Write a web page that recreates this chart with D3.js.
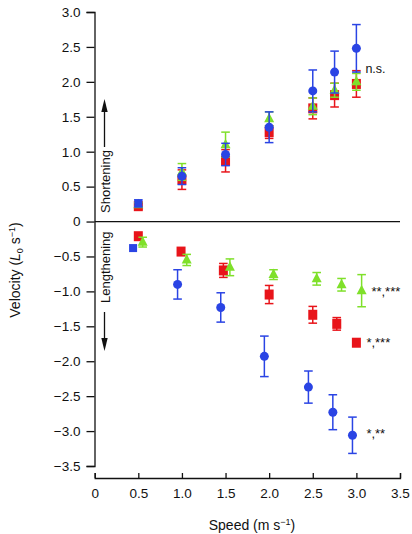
<!DOCTYPE html>
<html>
<head>
<meta charset="utf-8">
<script src="https://cdn.jsdelivr.net/npm/d3@7"></script>
<style>
body{margin:0;background:#fff;}
svg text{font-family:"Liberation Sans",Arial,Helvetica,sans-serif;fill:#111;}
</style>
</head>
<body>
<svg id="chart" width="412" height="534"></svg>
<script>
// ---- data ----
const xTicks = [0, 0.5, 1.0, 1.5, 2.0, 2.5, 3.0, 3.5];
const xTickLabels = ["0", "0.5", "1.0", "1.5", "2.0", "2.5", "3.0", "3.5"];
const yTicks = [3.0, 2.5, 2.0, 1.5, 1.0, 0.5, 0, -0.5, -1.0, -1.5, -2.0, -2.5, -3.0, -3.5];
const yTickLabels = ["3.0", "2.5", "2.0", "1.5", "1.0", "0.5", "0", "\u22120.5", "\u22121.0", "\u22121.5", "\u22122.0", "\u22122.5", "\u22123.0", "\u22123.5"];

// shortening (positive)
const shortSpeed = [0.5, 1.0, 1.5, 2.0, 2.5, 2.75, 3.0];
const shortRed   = [0.22, 0.60, 0.87, 1.28, 1.62, 1.81, 1.97];
const shortRedErr= [0.04, 0.14, 0.16, 0.09, 0.15, 0.17, 0.19];
const shortGreen = [0.24, 0.71, 1.10, 1.47, 1.65, 1.88, 2.00];
const shortGreenErr=[0.03, 0.12, 0.18, 0.10, 0.12, 0.10, 0.12];
const shortBlue  = [0.26, 0.65, 0.96, 1.35, 1.87, 2.14, 2.48];
const shortBlueErr=[0.05, 0.12, 0.16, 0.22, 0.30, 0.30, 0.34];

// lengthening (negative)
const lenRedSpeed  = [0.50, 0.99, 1.475, 2.00, 2.50, 2.775, 3.00];
const lenRed       = [-0.21, -0.43, -0.70, -1.045, -1.335, -1.465, -1.735];
const lenRedErr    = [0.0, 0.0, 0.10, 0.13, 0.12, 0.09, 0.0];
const lenGreenSpeed= [0.55, 1.055, 1.55, 2.05, 2.545, 2.83, 3.06];
const lenGreen     = [-0.295, -0.55, -0.655, -0.76, -0.82, -0.905, -0.99];
const lenGreenErr  = [0.07, 0.08, 0.12, 0.07, 0.09, 0.09, 0.23];
const lenBlueSpeed = [0.44, 0.95, 1.445, 1.945, 2.45, 2.73, 2.955];
const lenBlue      = [-0.38, -0.90, -1.23, -1.93, -2.37, -2.73, -3.06];
const lenBlueErr   = [0.0, 0.21, 0.21, 0.29, 0.23, 0.25, 0.26];

const annotations = [
  {text: "n.s.",   speed: 3.0, value: 2.195},
  {text: "**,***", speed: 3.0, value: -0.945},
  {text: "*,***",  speed: 3.0, value: -1.675},
  {text: "*,**",   speed: 3.0, value: -2.98}
];

const RED = "#e8141a", GREEN = "#7fe02a", BLUE = "#2a44e4";

// ---- chart ----
const svg = d3.select("#chart");
const x = d3.scaleLinear().domain([0, 3.5]).range([94.7, 400]);
const y = d3.scaleLinear().domain([-3.5, 3.0]).range([466, 12]);

// y axis
const yAxis = d3.axisLeft(y).tickValues(yTicks).tickSize(8).tickSizeOuter(8).tickPadding(6)
  .tickFormat((d, i) => yTickLabels[i]);
const gy = svg.append("g").attr("transform", "translate(94.5,0)").call(yAxis);
gy.selectAll("path,line").attr("stroke", "#111").attr("stroke-width", 1.3);
gy.selectAll("text").style("font-size", "13.5px").attr("fill", "#111");

// x axis (ticks point up)
const xAxis = d3.axisBottom(x).tickValues(xTicks).tickSize(-5).tickSizeOuter(-5).tickPadding(10)
  .tickFormat((d, i) => xTickLabels[i]);
const gx = svg.append("g").attr("transform", "translate(0,478)").call(xAxis);
gx.selectAll("path,line").attr("stroke", "#111").attr("stroke-width", 1.3);
gx.selectAll("text").style("font-size", "13.5px").attr("fill", "#111");

// zero line
svg.append("line").attr("x1", x(0)).attr("x2", x(3.5)).attr("y1", y(0)).attr("y2", y(0))
  .attr("stroke", "#111").attr("stroke-width", 1.3);

// axis titles
svg.append("text").attr("x", 252).attr("y", 530).attr("text-anchor", "middle")
  .style("font-size", "14px")
  .html('Speed (m s<tspan dy="-5" style="font-size:9px">\u22121</tspan><tspan dy="5">)</tspan>');
svg.append("text").attr("transform", "translate(20,270) rotate(-90)").attr("text-anchor", "middle")
  .style("font-size", "14px")
  .html('Velocity (<tspan font-style="italic">L</tspan><tspan dy="3" style="font-size:9px">0</tspan><tspan dy="-3"> s</tspan><tspan dy="-5" style="font-size:9px">\u22121</tspan><tspan dy="5">)</tspan>');

// shortening / lengthening labels with arrows
svg.append("text").attr("transform", "translate(110,213) rotate(-90)").attr("text-anchor", "start")
  .style("font-size", "13px").text("Shortening");
svg.append("text").attr("transform", "translate(110,303) rotate(-90)").attr("text-anchor", "start")
  .style("font-size", "13px").text("Lengthening");
svg.append("line").attr("x1", 104.5).attr("x2", 104.5).attr("y1", 147).attr("y2", 110)
  .attr("stroke", "#111").attr("stroke-width", 1.3);
svg.append("path").attr("d", "M104.5,99 L101.3,112 L107.7,112 Z").attr("fill", "#111");
svg.append("line").attr("x1", 104.5).attr("x2", 104.5).attr("y1", 312).attr("y2", 340)
  .attr("stroke", "#111").attr("stroke-width", 1.3);
svg.append("path").attr("d", "M104.5,351 L101.3,338 L107.7,338 Z").attr("fill", "#111");

// series drawing helper
function drawSeries(speeds, vals, errs, color, shape) {
  const g = svg.append("g");
  const data = speeds.map((s, i) => ({s, v: vals[i], e: errs[i], i}));
  const eb = data.filter(d => d.e > 0);
  const cap = 4.3;
  g.selectAll(".ev").data(eb).join("line")
    .attr("x1", d => x(d.s)).attr("x2", d => x(d.s))
    .attr("y1", d => y(d.v + d.e)).attr("y2", d => y(d.v - d.e))
    .attr("stroke", color).attr("stroke-width", 1.5);
  g.selectAll(".et").data(eb).join("line")
    .attr("x1", d => x(d.s) - cap).attr("x2", d => x(d.s) + cap)
    .attr("y1", d => y(d.v + d.e)).attr("y2", d => y(d.v + d.e))
    .attr("stroke", color).attr("stroke-width", 1.5);
  g.selectAll(".eb").data(eb).join("line")
    .attr("x1", d => x(d.s) - cap).attr("x2", d => x(d.s) + cap)
    .attr("y1", d => y(d.v - d.e)).attr("y2", d => y(d.v - d.e))
    .attr("stroke", color).attr("stroke-width", 1.5);
  data.forEach(d => {
    const cx = x(d.s), cy = y(d.v);
    const sh = typeof shape === "function" ? shape(d.i) : shape;
    if (sh === "circle") {
      g.append("circle").attr("cx", cx).attr("cy", cy).attr("r", 4.5).attr("fill", color);
    } else if (sh === "square") {
      g.append("rect").attr("x", cx - 4.5).attr("y", cy - 5).attr("width", 9).attr("height", 10).attr("fill", color);
    } else if (sh === "smallsquare") {
      g.append("rect").attr("x", cx - 4).attr("y", cy - 4).attr("width", 8).attr("height", 8).attr("fill", color);
    } else if (sh === "triangle") {
      g.append("path").attr("d", `M${cx},${cy - 6} L${cx + 5},${cy + 3.5} L${cx - 5},${cy + 3.5} Z`).attr("fill", color);
    }
  });
}

const blueShape = i => i === 0 ? "smallsquare" : "circle";
drawSeries(shortSpeed, shortRed, shortRedErr, RED, "square");
drawSeries(shortSpeed, shortGreen, shortGreenErr, GREEN, "triangle");
drawSeries(shortSpeed, shortBlue, shortBlueErr, BLUE, blueShape);

drawSeries(lenBlueSpeed, lenBlue, lenBlueErr, BLUE, blueShape);
drawSeries(lenRedSpeed, lenRed, lenRedErr, RED, "square");
drawSeries(lenGreenSpeed, lenGreen, lenGreenErr, GREEN, "triangle");

// significance annotations
svg.selectAll(".ann").data(annotations).join("text")
  .attr("x", (d, i) => x(d.speed) + (i === 1 ? 15 : (i === 0 ? 9 : 10)))
  .attr("y", d => y(d.value))
  .attr("dy", d => d.text === "n.s." ? "0.35em" : "0.62em")
  .style("font-size", d => d.text === "n.s." ? "12.5px" : "13px")
  .text(d => d.text);
</script>
</body>
</html>
